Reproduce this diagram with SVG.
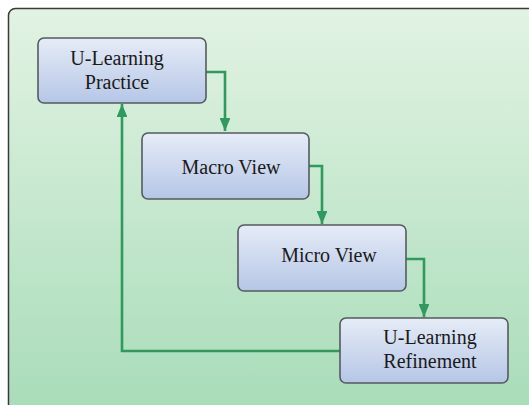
<svg xmlns="http://www.w3.org/2000/svg" width="529" height="405" viewBox="0 0 529 405">
<defs>
<linearGradient id="bg" x1="0" y1="0" x2="0" y2="1">
<stop offset="0" stop-color="#e2f3e3"/>
<stop offset="1" stop-color="#a6dbb7"/>
</linearGradient>
<linearGradient id="nd" x1="0" y1="0" x2="0" y2="1">
<stop offset="0" stop-color="#e6ecf7"/>
<stop offset="1" stop-color="#b5c6e6"/>
</linearGradient>
<marker id="ah" viewBox="0 0 12 10" refX="12" refY="5" markerWidth="5" markerHeight="4.2" orient="auto" markerUnits="strokeWidth">
<path d="M0,0 L12,5 L0,10 z" fill="#2f9a5e"/>
</marker>
<style>
.node{fill:url(#nd);stroke:#555a60;stroke-width:1.6}
.lbl{font-family:'Liberation Serif','DejaVu Serif',serif;font-size:20px;fill:#1a1a1a;text-anchor:middle}
.con{fill:none;stroke:#2f9a5e;stroke-width:2.6;marker-end:url(#ah)}
</style>
</defs>
<rect x="0" y="0" width="529" height="405" fill="#ffffff"/>
<rect x="8.5" y="8.5" width="540" height="420" rx="7" fill="url(#bg)" stroke="#3a3a3a" stroke-width="1.5"/>
<g id="connectors">
<path class="con" d="M206,72 H225 V131"/>
<path class="con" d="M309,166 H322 V224"/>
<path class="con" d="M406,259 H424 V317"/>
<path class="con" d="M340,351 H122 V104"/>
</g>
<g id="n1">
<rect class="node" x="38" y="38" width="168" height="65" rx="6"/>
<text class="lbl" x="117" y="65">U-Learning</text>
<text class="lbl" x="117" y="89">Practice</text>
</g>
<g id="n2">
<rect class="node" x="142" y="133" width="167" height="66" rx="6"/>
<text class="lbl" x="231" y="174">Macro View</text>
</g>
<g id="n3">
<rect class="node" x="238" y="225" width="168" height="66" rx="6"/>
<text class="lbl" x="329" y="262">Micro View</text>
</g>
<g id="n4">
<rect class="node" x="340" y="318" width="168" height="65" rx="6"/>
<text class="lbl" x="430" y="344">U-Learning</text>
<text class="lbl" x="430" y="368">Refinement</text>
</g>
</svg>
